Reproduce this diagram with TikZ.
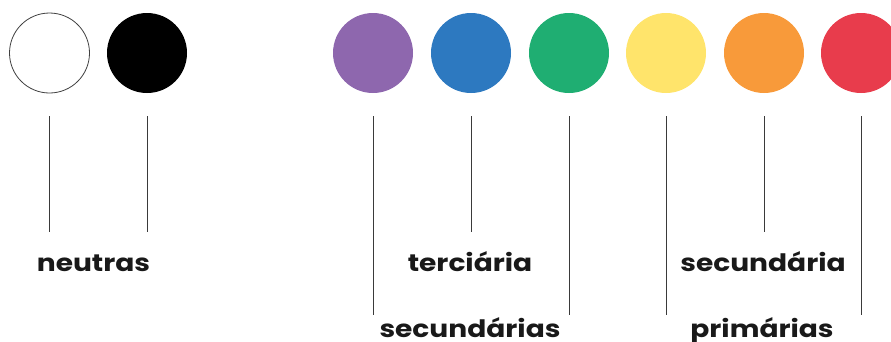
\documentclass[tikz,border=0pt]{standalone}
\usepackage{fontspec}
\setmainfont{Poppins}[FakeStretch=1.17]
\usepackage{xcolor}
\usepackage{tikz}

\definecolor{roxo}{HTML}{8E67AE}
\definecolor{azul}{HTML}{2D79C0}
\definecolor{verde}{HTML}{1FAE72}
\definecolor{amarelo}{HTML}{FFE46B}
\definecolor{laranja}{HTML}{F89A3A}
\definecolor{vermelho}{HTML}{E83C4C}
\definecolor{traco}{HTML}{3A3A3A}

\tikzset{
	cor/.style={circle, minimum size=80pt, inner sep=0pt},
	rotulo/.style={anchor=base, font=\fontsize{24}{28}\selectfont\bfseries, text=black!90},
	haste/.style={traco, line width=0.9pt}
}

\begin{document}
\begin{tikzpicture}[x=1pt,y=-1pt]
	\useasboundingbox (0,0) rectangle (891,341);
	\node[cor, draw=black!75, line width=0.8pt, fill=white] (branco) at (49.5,53) {};
	\node[cor, fill=black] (preto) at (147,53) {};
	\foreach \nome/\cor/\x in {c1/roxo/373, c2/azul/471, c3/verde/569, c4/amarelo/666, c5/laranja/764, c6/vermelho/861}
		\node[cor, fill=\cor] (\nome) at (\x,53) {};
	\node[rotulo] (neutras) at (93.5,271.5) {neutras};
	\node[rotulo] (terc) at (470,271.5) {terciária};
	\node[rotulo] (sec) at (763,271.5) {secundária};
	\node[rotulo] (secs) at (470,337) {secundárias};
	\node[rotulo] (prim) at (762,337) {primárias};
	\draw[haste] (branco.south) ++(0,23) -- ++(0,116);
	\draw[haste] (preto.south) ++(0,23) -- ++(0,116);
	\draw[haste] (c2.south) ++(0,23) -- ++(0,116);
	\draw[haste] (c5.south) ++(0,23) -- ++(0,116);
	\draw[haste] (c1.south) ++(0,23) -- ++(0,199);
	\draw[haste] (c3.south) ++(0,23) -- ++(0,199);
	\draw[haste] (c4.south) ++(0,23) -- ++(0,199);
	\draw[haste] (c6.south) ++(0,23) -- ++(0,199);
\end{tikzpicture}
\end{document}
